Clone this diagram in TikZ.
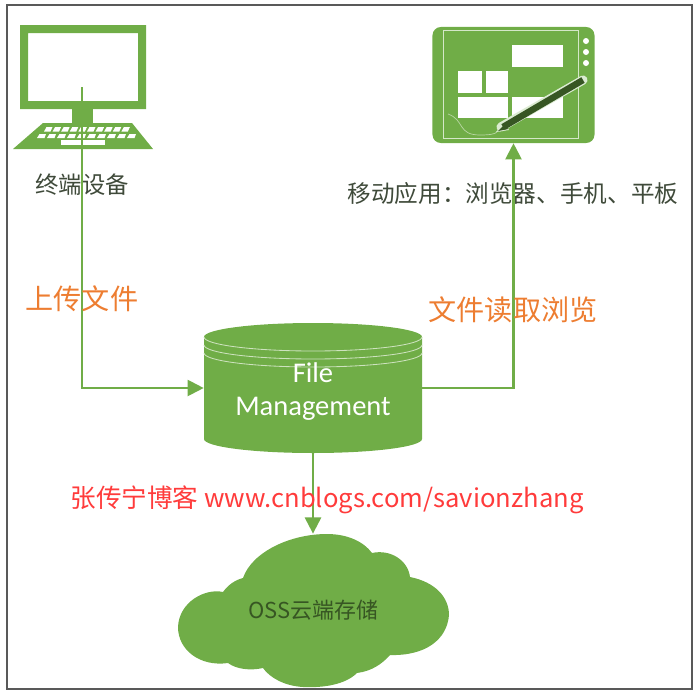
\documentclass[tikz,border=0pt]{standalone}
\usepackage{fontspec}
\setmainfont{Carlito}
\newfontfamily\cjk{Noto Sans CJK SC}
\usetikzlibrary{arrows.meta}
\definecolor{leaf}{HTML}{70AD47}
\definecolor{deepleaf}{HTML}{375623}
\definecolor{greytext}{HTML}{3F4A3A}
\definecolor{tagorange}{HTML}{ED7D31}
\definecolor{tagred}{HTML}{FF3B3B}
\begin{document}
\begin{tikzpicture}[
    x=0.025cm, y=-0.025cm,
    link/.style={leaf, line width=1.5pt, -{Triangle[length=11.5pt, width=11.5pt]}},
    keycap/.style={fill=white, draw=none},
    hole/.style={fill=white, draw=none},
    mark label/.style={inner sep=0pt, text=tagorange, font=\cjk\fontsize{20}{24}\selectfont},
    dark label/.style={inner sep=0pt, text=greytext}
]
\useasboundingbox (0,0) rectangle (700,693);
\draw[black!65, line width=1pt] (7,5) rectangle (692,689);

% terminal
\fill[leaf, even odd rule] (20,25) rectangle (146,109) (28,33) rectangle (138,101);
\fill[leaf] (72,109) rectangle (93,123);
\fill[leaf] (43,123) -- (132,123) -- (153,149) -- (13,149) -- cycle;
\foreach \i in {0,...,9} {
    \fill[keycap] ({46.5+8.6*\i},127) -- ({52.5+8.6*\i},127) -- ({50.5+8.6*\i},131.5) -- ({44+8.6*\i},131.5) -- cycle;
    \fill[keycap] ({39.5+10*\i},134) -- ({46+10*\i},134) -- ({44.5+10*\i},138) -- ({37+10*\i},138) -- cycle;
}
\fill[keycap] (61,140) rectangle (105,144.5);
\coordinate (pcscreen) at (82,87);

% tablet
\node[fill=leaf, rounded corners=6pt, minimum width=4.05cm, minimum height=2.9cm, inner sep=0pt] (tablet) at (513.5,85) {};
\draw[white!70!leaf, line width=0.7pt] (443,30) rectangle (578,138);
\fill[hole] (512,45) rectangle (563,67);
\fill[hole] (458,71) rectangle (482,93);
\fill[hole] (486,71) rectangle (508,93);
\fill[hole] (458,97) rectangle (508,118);
\fill[hole] (512,97) rectangle (563,118);
\foreach \y in {41,52,63} {
    \fill[white] (586,\y) circle (3);
}
\draw[white!50!leaf, line width=0.5pt] (448,114) .. controls (465,120) and (457,135) .. (480,135) .. controls (490,135) and (495,134) .. (497,132);
\draw[white!75!leaf, line width=6.5pt, line cap=round] (501,127) -- (583,80);
\fill[white!75!leaf] (496,132) -- (505,122) -- (509,130) -- cycle;
\draw[deepleaf, line width=4.6pt] (503,127) -- (583,80);
\fill[deepleaf] (498,131) -- (505,124) -- (508,129) -- cycle;
\node[dark label, font=\cjk\fontsize{16.8}{20}\selectfont] (tabletlabel) at (513,194) {移动应用：浏览器、手机、平板};

% file management
\fill[leaf] (204,337) arc[start angle=180, end angle=360, x radius=109, y radius=14]
    -- (422,439) arc[start angle=0, end angle=180, x radius=109, y radius=14] -- cycle;
\foreach \y in {337,345,353} {
    \draw[white!65!leaf, line width=0.6pt] (204,\y) arc[start angle=180, end angle=0, x radius=109, y radius=14];
}
\node[inner sep=0pt, minimum width=5.45cm, minimum height=3.25cm, text depth=0pt, align=center, text=white, font=\fontsize{20.3}{23.5}\selectfont] (filebox) at (313,388) {\raisebox{-1.4pt}{File}\\\raisebox{-1.4pt}{Management}};

% cloud
\fill[leaf] (223,592) .. controls (228,585) and (235,580) .. (243,578)
    .. controls (252,552) and (290,534) .. (327,534)
    .. controls (348,534) and (364,542) .. (372,553)
    .. controls (390,549) and (408,560) .. (410,577)
    .. controls (435,582) and (449,597) .. (449,615)
    .. controls (447,640) and (425,656) .. (390,655)
    .. controls (382,664) and (372,671) .. (357,673)
    .. controls (345,685) and (322,688) .. (303,687)
    .. controls (285,686) and (270,678) .. (263,668)
    .. controls (250,671) and (236,669) .. (228,663)
    .. controls (200,667) and (178,650) .. (178,627)
    .. controls (179,602) and (205,588) .. (223,592) -- cycle;
\node[inner sep=0pt, minimum width=6.7cm, minimum height=3.83cm, text=deepleaf, font=\cjk\fontsize{15.6}{18}\selectfont] (cloud) at (313,610.5) {OSS云端存储};

% links
\draw[link] (pcscreen) |- (filebox.west);
\draw[link] (filebox.east) -| (tablet.south);
\draw[link] (filebox.south) -- (cloud.north);

\node[dark label, font=\cjk\fontsize{16.6}{20}\selectfont] (pclabel) at (82,185) {终端设备};
\node[mark label] (uploadlabel) at (82,299) {上传文件};
\node[mark label] (readlabel) at (513,310) {文件读取浏览};
\node[inner sep=0pt, text=tagred, font=\cjk\fontsize{18.2}{22}\selectfont] (bloglabel) at (327,500) {张传宁博客 www.cnblogs.com/savionzhang};
\end{tikzpicture}
\end{document}
